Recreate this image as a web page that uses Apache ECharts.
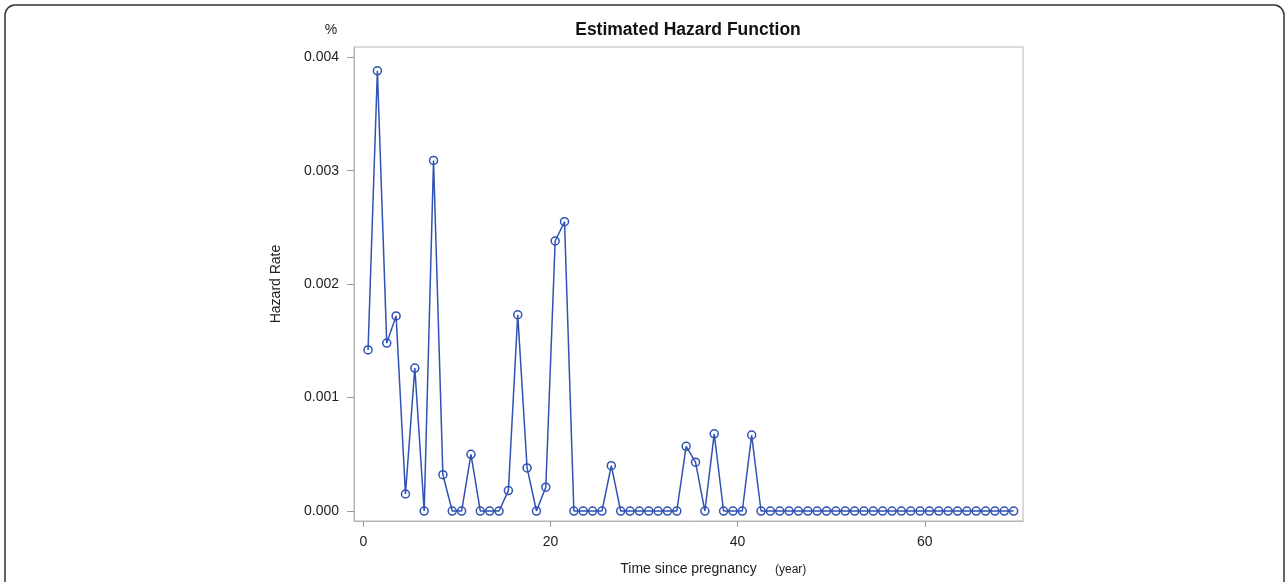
<!DOCTYPE html>
<html>
<head>
<meta charset="utf-8">
<script src="https://cdn.jsdelivr.net/npm/echarts@6/dist/echarts.min.js"></script>
<style>
html,body{margin:0;padding:0;background:#fff;}
#chart{width:1288px;height:582px;}
</style>
</head>
<body>
<div id="chart"></div>
<script>
const times = [0.5,1.5,2.5,3.5,4.5,5.5,6.5,7.5,8.5,9.5,10.5,11.5,12.5,13.5,14.5,15.5,16.5,17.5,18.5,19.5,
  20.5,21.5,22.5,23.5,24.5,25.5,26.5,27.5,28.5,29.5,30.5,31.5,32.5,33.5,34.5,35.5,36.5,37.5,38.5,39.5,
  40.5,41.5,42.5,43.5,44.5,45.5,46.5,47.5,48.5,49.5,50.5,51.5,52.5,53.5,54.5,55.5,56.5,57.5,58.5,59.5,
  60.5,61.5,62.5,63.5,64.5,65.5,66.5,67.5,68.5,69.5];
const hazard = [0.00142,0.00388,0.00148,0.00172,0.00015,0.00126,0,0.00309,0.00032,0,
  0,0.0005,0,0,0,0.00018,0.00173,0.00038,0,0.00021,
  0.00238,0.00255,0,0,0,0,0.0004,0,0,0,
  0,0,0,0,0.00057,0.00043,0,0.00068,0,0,
  0,0.00067,0,0,0,0,0,0,0,0,
  0,0,0,0,0,0,0,0,0,0,
  0,0,0,0,0,0,0,0,0,0];
const xTicks = [0,20,40,60];
const yTicks = [0,0.001,0.002,0.003,0.004];
const titleText = 'Estimated Hazard Function';
const xName = 'Time since pregnancy';
const xUnit = '(year)';
const yName = 'Hazard Rate';
const yUnit = '%';

const chart = echarts.init(document.getElementById('chart'));
const font = 'Liberation Sans, Arial, sans-serif';
const gray = '#b4b4b4';
const blue = '#2f52b4';
chart.setOption({
  animation: false,
  backgroundColor: '#fff',
  grid: {left: 354, right: 265, top: 47, bottom: 61, show: true, borderColor: gray, borderWidth: 1},
  xAxis: {
    type: 'value', min: -1, max: 70.5,
    name: xName, nameLocation: 'middle', nameGap: 41,
    nameTextStyle: {fontFamily: font, fontSize: 14, color: '#222'},
    axisLine: {show: true, onZero: false, lineStyle: {color: gray}},
    axisTick: {show: true, length: 6, customValues: xTicks, lineStyle: {color: '#999'}},
    axisLabel: {customValues: xTicks, margin: 14, fontFamily: font, fontSize: 14, color: '#222'},
    splitLine: {show: false}
  },
  yAxis: {
    type: 'value', min: -0.000088, max: 0.00409,
    name: yName, nameLocation: 'middle', nameGap: 71, nameRotate: 90,
    nameTextStyle: {fontFamily: font, fontSize: 14, color: '#222'},
    axisLine: {show: true, onZero: false, lineStyle: {color: gray}},
    axisTick: {show: true, length: 7, customValues: yTicks, lineStyle: {color: '#999'}},
    axisLabel: {customValues: yTicks, margin: 15, fontFamily: font, fontSize: 14, color: '#222',
      formatter: v => v.toFixed(3)},
    splitLine: {show: false}
  },
  graphic: [
    {type: 'rect', shape: {x: 5, y: 5, width: 1279, height: 640, r: 10},
      style: {fill: 'none', stroke: '#333', lineWidth: 1.5}, silent: true},
    {type: 'text', x: 688, y: 30, style: {text: titleText, fontFamily: font, fontSize: 17.5, fontWeight: 'bold',
      fill: '#111', align: 'center', verticalAlign: 'middle'}},
    {type: 'text', x: 331, y: 30, style: {text: yUnit, fontFamily: font, fontSize: 14, fill: '#222',
      align: 'center', verticalAlign: 'middle'}},
    {type: 'text', x: 775, y: 570, style: {text: xUnit, fontFamily: font, fontSize: 12, fill: '#222',
      align: 'left', verticalAlign: 'middle'}}
  ],
  series: [{
    type: 'line',
    data: times.map((t, i) => [t, hazard[i]]),
    symbol: 'circle', symbolSize: 8,
    lineStyle: {color: blue, width: 1.5},
    itemStyle: {color: 'rgba(0,0,0,0)', borderColor: blue, borderWidth: 1.5},
    emphasis: {disabled: true}
  }]
});
</script>
</body>
</html>
